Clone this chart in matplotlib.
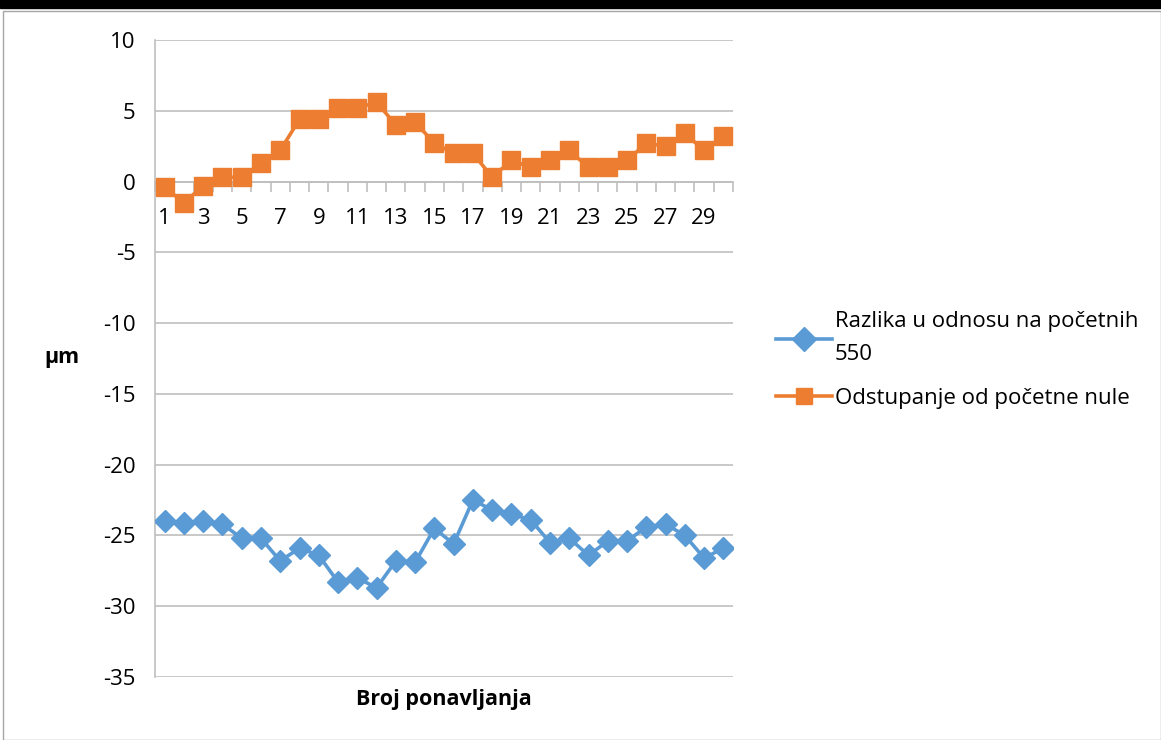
import matplotlib
matplotlib.use("Agg")
import matplotlib.pyplot as plt
from matplotlib.patches import Rectangle
from matplotlib.ticker import FixedLocator, NullFormatter

plt.rcParams['font.family'] = ['Open Sans', 'DejaVu Sans']
plt.rcParams['axes.unicode_minus'] = False

categories = list(range(1, 31))
tick_labels = [str(c) if c % 2 == 1 else "" for c in categories]

razlika = [-24.0, -24.15, -24.0, -24.2, -25.2, -25.2, -26.8, -25.9, -26.4, -28.3,
           -28.0, -28.7, -26.8, -26.9, -24.5, -25.6, -22.5, -23.2, -23.5, -23.9,
           -25.5, -25.2, -26.4, -25.4, -25.4, -24.4, -24.2, -25.0, -26.6, -25.9]
odstupanje = [-0.4, -1.5, -0.3, 0.3, 0.3, 1.3, 2.2, 4.4, 4.4, 5.2,
              5.2, 5.6, 4.0, 4.2, 2.7, 2.0, 2.0, 0.3, 1.5, 1.0,
              1.5, 2.2, 1.0, 1.0, 1.5, 2.7, 2.5, 3.4, 2.2, 3.2]

label_blue = "Razlika u odnosu na početnih\n550"
label_orange = "Odstupanje od početne nule"
blue = "#5B9BD5"
orange = "#ED7D31"
grid = "#BFBFBF"

fig = plt.figure(figsize=(11.61, 7.40), dpi=100)
# frame
fig.patches.append(Rectangle((0, 1 - 8/740), 1, 8/740, transform=fig.transFigure,
                             color="black", zorder=0))
fig.patches.append(Rectangle((3/1161, 0), 1 - 3/1161 - 0.5/1161, 1 - 11/740,
                             transform=fig.transFigure, fill=False,
                             edgecolor="#A6A6A6", linewidth=1, zorder=0))

ax = fig.add_axes([155/1161, 1 - 677/740, (733 - 155)/1161, (677 - 40)/740])
x = categories
ax.plot(x, razlika, color=blue, lw=2.6, marker="D", markersize=11.5,
        label=label_blue, zorder=3)
ax.plot(x, odstupanje, color=orange, lw=2.6, marker="s", markersize=13.5,
        label=label_orange, zorder=3)

ax.set_xlim(0.5, 30.5)
ax.set_ylim(-35, 10)
ax.set_yticks(range(-35, 11, 5))
ax.yaxis.grid(True, color=grid, lw=1.2)
ax.set_axisbelow(True)
ax.tick_params(axis="y", length=0, labelsize=16, pad=14)

for s in ["top", "right"]:
    ax.spines[s].set_visible(False)
ax.spines["left"].set_color(grid)
ax.spines["left"].set_linewidth(1.2)
ax.spines["bottom"].set_position(("data", 0))
ax.spines["bottom"].set_color(grid)
ax.spines["bottom"].set_linewidth(1.2)

ax.xaxis.set_major_locator(FixedLocator([c + 0.5 for c in [0] + categories]))
ax.xaxis.set_major_formatter(NullFormatter())
ax.xaxis.set_minor_locator(FixedLocator(x))
ax.set_xticklabels(tick_labels, minor=True)
ax.tick_params(axis="x", which="major", length=7, color=grid, width=1.2, direction="out")
ax.tick_params(axis="x", which="minor", length=0, labelsize=16, pad=19)

fig.text(444/1161, 1 - 699/740, "Broj ponavljanja", ha="center", va="center",
         fontsize=15.5, fontweight="bold")
fig.text(62/1161, 1 - 358/740, "µm", ha="center", va="center",
         fontsize=15.5, fontweight="bold")

leg = fig.legend(loc="center left", bbox_to_anchor=(756/1161, 1 - 360/740),
                 frameon=False, fontsize=16, handlelength=2.5, handletextpad=0.15,
                 labelspacing=1.0)
for t in leg.get_texts():
    t.set_linespacing(1.75)
for h in leg.legend_handles:
    h.set_markersize(12)

fig.savefig("out.png", dpi=100)
